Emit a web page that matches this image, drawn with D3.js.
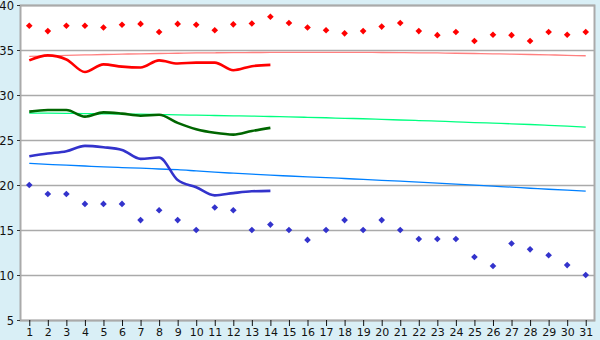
<!DOCTYPE html>
<html>
<head>
<meta charset="utf-8">
<script src="https://cdn.jsdelivr.net/npm/d3@7"></script>
<style>
  body { margin: 0; background: #d9eff6; }
  svg { display: block; }
  .tick-label { font-family: 'DejaVu Sans', sans-serif; font-size: 11px; fill: #111; }
</style>
</head>
<body>
<div class="chart"></div>
<script>
const width = 600
const height = 340
const margin = { top: 5, right: 5, bottom: 20, left: 20 }

const days = d3.range(1, 32)
const yTicks = [5, 10, 15, 20, 25, 30, 35, 40]

// daily points
const maxPoints = [37.7, 37.1, 37.7, 37.7, 37.5, 37.8, 37.9, 37.0, 37.9, 37.8,
  37.2, 37.85, 37.95, 38.7, 38.0, 37.5, 37.2, 36.85, 37.1, 37.6,
  38.0, 37.1, 36.65, 37.0, 36.0, 36.7, 36.65, 36.0, 37.0, 36.7, 37.0]
const minPoints = [20.0, 19.0, 19.0, 17.9, 17.9, 17.9, 16.1, 17.2, 16.1, 15.0,
  17.5, 17.2, 15.0, 15.6, 15.0, 13.9, 15.0, 16.1, 15.0, 16.1,
  15.0, 14.0, 14.0, 14.0, 12.0, 11.0, 13.5, 12.85, 12.2, 11.1, 10.0]

// first 14 days lines
const redLine = [33.85, 34.4, 33.95, 32.55, 33.4, 33.15, 33.05, 33.85, 33.5, 33.6,
  33.6, 32.75, 33.2, 33.35]
const greenLine = [28.15, 28.33, 28.33, 27.6, 28.07, 27.93, 27.7, 27.8, 26.9, 26.2,
  25.8, 25.6, 26.0, 26.35]
const blueLine = [23.2, 23.5, 23.75, 24.35, 24.2, 23.9, 22.9, 23.05, 20.55, 19.75,
  18.85, 19.1, 19.3, 19.35]

// trend lines
const redTrend = [34.3, 34.34, 34.4, 34.45, 34.5, 34.54, 34.58, 34.61, 34.64, 34.67,
  34.69, 34.71, 34.72, 34.73, 34.74, 34.74, 34.74, 34.74, 34.73, 34.72,
  34.71, 34.69, 34.67, 34.64, 34.61, 34.58, 34.54, 34.5, 34.46, 34.41, 34.36]
const greenTrend = [28.0, 27.98, 27.96, 27.93, 27.91, 27.89, 27.87, 27.83, 27.8, 27.76,
  27.72, 27.69, 27.66, 27.61, 27.57, 27.52, 27.47, 27.41, 27.36, 27.29,
  27.22, 27.16, 27.09, 27.02, 26.94, 26.87, 26.8, 26.72, 26.63, 26.54, 26.44]
const blueTrend = [22.41, 22.3, 22.2, 22.11, 22.02, 21.94, 21.87, 21.78, 21.7, 21.56,
  21.42, 21.31, 21.2, 21.09, 21.0, 20.91, 20.82, 20.72, 20.62, 20.52,
  20.42, 20.31, 20.2, 20.09, 19.98, 19.87, 19.76, 19.64, 19.53, 19.42, 19.31]

const theme = {
  grid: '#aaaaaa',
  red: '#ff0000',
  green: '#006600',
  blue: '#3333cc',
  redTrend: '#ff8080',
  greenTrend: '#00ff80',
  blueTrend: '#0080ff'
}

const svg = d3.select('.chart')
  .append('svg')
  .attr('width', width)
  .attr('height', height)

const x = d3.scalePoint()
  .domain(days)
  .range([margin.left, width - margin.right])
  .padding(0.5)

const y = d3.scaleLinear()
  .domain([5, 40])
  .range([height - margin.bottom, margin.top])

// plot background
svg.append('rect')
  .attr('x', margin.left)
  .attr('y', margin.top)
  .attr('width', width - margin.left - margin.right)
  .attr('height', height - margin.top - margin.bottom)
  .attr('fill', '#fff')

// gridlines
svg.append('g')
  .selectAll('line')
  .data(yTicks)
  .join('line')
  .attr('x1', margin.left)
  .attr('x2', width - margin.right)
  .attr('y1', d => Math.round(y(d)) + 0.5)
  .attr('y2', d => Math.round(y(d)) + 0.5)
  .attr('stroke', theme.grid)
  .attr('stroke-width', 1.5)

// frame
svg.append('rect')
  .attr('x', margin.left + 0.5)
  .attr('y', margin.top + 0.5)
  .attr('width', width - margin.left - margin.right - 1)
  .attr('height', height - margin.top - margin.bottom)
  .attr('fill', 'none')
  .attr('stroke', theme.grid)
  .attr('stroke-width', 2)

// y axis
const yAxis = svg.append('g')
  .attr('transform', `translate(${margin.left},0)`)
  .call(d3.axisLeft(y).tickValues(yTicks).tickSize(3).tickPadding(3))
yAxis.select('.domain').remove()
yAxis.selectAll('line').attr('stroke', '#333')
yAxis.selectAll('text')
  .attr('class', 'tick-label')
  .attr('fill', null)
  .attr('dy', '0.4em')
  .style('font-size', '11.5px')

// x axis
const xAxis = svg.append('g')
  .attr('transform', `translate(0,${height - margin.bottom})`)
  .call(d3.axisBottom(x).tickSize(6).tickPadding(2))
xAxis.select('.domain').remove()
xAxis.selectAll('line').attr('stroke', '#111')
xAxis.selectAll('text')
  .attr('class', 'tick-label')
  .attr('fill', null)

// trend lines
const trendLine = d3.line()
  .x((d, i) => x(days[i]))
  .y(d => y(d))
  .curve(d3.curveMonotoneX)

const trends = [
  { values: redTrend, color: theme.redTrend },
  { values: greenTrend, color: theme.greenTrend },
  { values: blueTrend, color: theme.blueTrend }
]

svg.append('g')
  .selectAll('path')
  .data(trends)
  .join('path')
  .attr('d', d => trendLine(d.values))
  .attr('fill', 'none')
  .attr('stroke', d => d.color)
  .attr('stroke-width', 1.3)

// main lines
const curved = d3.line()
  .x((d, i) => x(days[i]))
  .y(d => y(d))
  .curve(d3.curveMonotoneX)

const mains = [
  { values: redLine, color: theme.red },
  { values: greenLine, color: theme.green },
  { values: blueLine, color: theme.blue }
]

svg.append('g')
  .selectAll('path')
  .data(mains)
  .join('path')
  .attr('d', d => curved(d.values))
  .attr('fill', 'none')
  .attr('stroke', d => d.color)
  .attr('stroke-width', 2.6)

// points: small square turned on its corner
const marker = d3.symbol().type(d3.symbolSquare).size(22)

const pointSets = [
  { values: maxPoints, color: theme.red },
  { values: minPoints, color: theme.blue }
]

pointSets.forEach(set => {
  svg.append('g')
    .selectAll('path')
    .data(set.values)
    .join('path')
    .attr('d', marker)
    .attr('transform', (d, i) => `translate(${x(days[i])},${y(d)}) rotate(45)`)
    .attr('fill', set.color)
})
</script>
</body>
</html>
